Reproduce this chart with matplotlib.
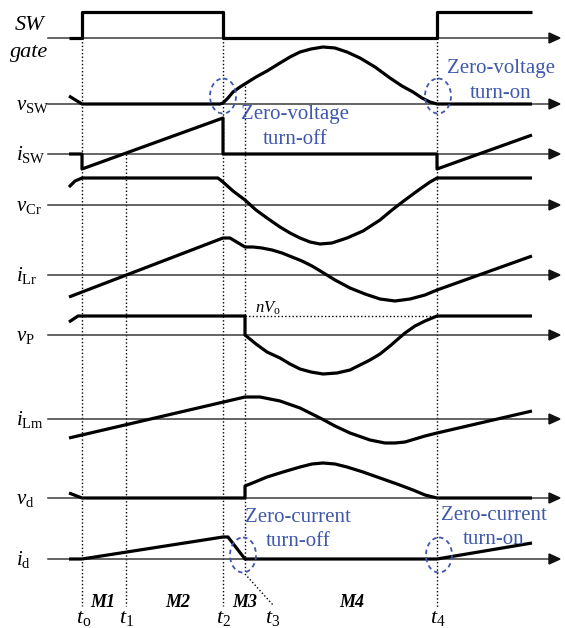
import matplotlib
matplotlib.use("Agg")
import matplotlib.pyplot as plt
from matplotlib.patches import Ellipse, Polygon

plt.rcParams['mathtext.fontset'] = 'custom'
plt.rcParams['mathtext.rm'] = 'Liberation Serif'
plt.rcParams['mathtext.it'] = 'Liberation Serif:italic'
plt.rcParams['mathtext.bf'] = 'Liberation Serif:bold'

SERIF = 'Liberation Serif'
BLUE = '#3f58ad'

# switching instants t0..t4 on the time axis
t_marks = [82, 126, 223, 245, 437]
t_names = [r'$t_{\mathrm{o}}$', r'$t_1$', r'$t_2$', r'$t_3$', r'$t_4$']
modes = ['M1', 'M2', 'M3', 'M4']
mode_pos = [103, 178, 245, 352]

# waveforms: time samples and level above each trace's zero line
gate_t = [69, 82, 82, 223, 223, 437, 437, 532]
gate_v = [0, 0, 26, 26, 0, 0, 26, 26]

vsw_t = [69, 82, 220, 223, 228, 233, 240, 248, 256, 267, 280, 290, 300, 311,
         323, 335, 347, 360, 375, 390, 402, 413, 422, 430, 437, 532]
vsw_v = [8, 0, 0, 1, 6, 12, 17, 22, 27, 33, 41, 47, 52, 55,
         57, 56, 52, 46, 37, 26, 18, 12, 6, 2, 0, 0]

isw_t = [69, 82, 82, 223, 223, 437, 437, 532]
isw_v = [0, 0, -15, 36, 0, 0, -15, 19]

vcr_t = [69, 75, 82, 218, 223, 233, 245, 256, 267, 280, 290, 300, 310, 320,
         332, 347, 363, 380, 392, 405, 420, 430, 437, 532]
vcr_v = [18, 24, 27, 27, 23, 14, 5, -5, -13, -22, -28, -33, -37, -39,
         -38, -33, -26, -15, -5, 5, 16, 23, 27, 27]

ilr_t = [69, 223, 230, 245, 253, 262, 272, 282, 292, 302, 312, 322, 335,
         350, 365, 380, 395, 410, 425, 437, 532]
ilr_v = [-22, 37, 37, 28, 28, 27, 25, 22, 18, 14, 9, 3, -5,
         -13, -19, -24, -26, -24, -20, -15, 19]

vp_t = [69, 78, 245, 245, 256, 267, 280, 290, 300, 311, 323, 337, 350, 360,
        370, 380, 390, 398, 405, 415, 425, 437, 532]
vp_v = [13, 19, 19, 0, -9, -17, -23, -29, -34, -37, -39, -38, -35, -30,
        -25, -19, -11, -4, 2, 9, 14, 19, 19]

ilm_t = [69, 245, 260, 280, 300, 322, 335, 350, 370, 385, 395, 405, 415,
         425, 437, 532]
ilm_v = [-19, 22, 22, 18, 11, 0, -7, -14, -21, -24, -24, -23, -20,
         -17, -14, 8]

vd_t = [69, 82, 245, 245, 255, 267, 283, 300, 312, 323, 335, 347, 363, 380,
        397, 413, 425, 437, 532]
vd_v = [5, 0, 0, 12, 16, 21, 26, 31, 34, 35, 34, 31, 26, 20,
        14, 8, 3, 0, 0]

id_t = [69, 82, 223, 228, 245, 437, 532]
id_v = [0, 0, 22, 22, 0, 0, 16]

nvo_level = 19  # vP clamp level, drawn as the dotted nVo guide

traces = [
    (38, gate_t, gate_v),
    (104, vsw_t, vsw_v),
    (154, isw_t, isw_v),
    (205, vcr_t, vcr_v),
    (275, ilr_t, ilr_v),
    (335, vp_t, vp_v),
    (419, ilm_t, ilm_v),
    (498, vd_t, vd_v),
    (559, id_t, id_v),
]
labels = [None, r'$v_{\mathrm{SW}}$', r'$i_{\mathrm{SW}}$', r'$v_{\mathrm{Cr}}$',
          r'$i_{\mathrm{Lr}}$', r'$v_{\mathrm{P}}$', r'$i_{\mathrm{Lm}}$',
          r'$v_{\mathrm{d}}$', r'$i_{\mathrm{d}}$']

fig = plt.figure(figsize=(5.65, 6.28), dpi=100)
ax = fig.add_axes([0, 0, 1, 1])
ax.set_xlim(0, 565)
ax.set_ylim(628, 0)
ax.axis('off')

# time axes with arrow heads
for (base, ts, vs), lab in zip(traces, labels):
    ax.plot([48, 550], [base, base], color='#3a3a3a', lw=1.1, zorder=2)
    ax.add_patch(Polygon([[549, base - 5], [560, base], [549, base + 5]],
                         closed=True, color='#111111', zorder=2))
    ax.plot(ts, [base - v for v in vs], color='black', lw=2.3,
            solid_joinstyle='round', solid_capstyle='butt', zorder=4)
    if lab:
        ax.text(16, base + 6, lab, fontsize=15, va='baseline', ha='left')

ax.text(15, 30, 'SW', fontsize=16, family=SERIF, style='italic', va='baseline')
ax.text(10, 57, 'gate', fontsize=16, family=SERIF, style='italic', va='baseline')

# dotted instant markers
dot = dict(color='black', lw=1.0, linestyle=(0, (1, 1.6)), zorder=1)
ax.plot([t_marks[0], t_marks[0]], [38, 606], **dot)
ax.plot([t_marks[1], t_marks[1]], [154, 606], **dot)
ax.plot([t_marks[2], t_marks[2]], [38, 606], **dot)
ax.plot([t_marks[3], t_marks[3]], [86, 574], **dot)
ax.plot([t_marks[3], 273], [574, 605], **dot)
ax.plot([t_marks[4], t_marks[4]], [38, 607], **dot)
ax.plot([t_marks[3], t_marks[4]], [335 - nvo_level] * 2, **dot)
ax.text(255, 313, r'$nV_{\mathrm{o}}$', fontsize=12, va='baseline')

t_label_x = [84, 127, 224, 273, 438]
for x, name in zip(t_label_x, t_names):
    ax.text(x, 623, name, fontsize=16, ha='center', va='baseline')
for x, m in zip(mode_pos, modes):
    ax.text(x, 607, m, fontsize=13, family=SERIF, style='italic',
            weight='bold', ha='center', va='baseline')

# soft-switching callouts
for cx, cy in [(223, 96), (438, 96), (243, 555), (439, 555)]:
    ax.add_patch(Ellipse((cx, cy), 26, 35, fill=False, edgecolor=BLUE,
                         lw=1.3, linestyle=(0, (2.5, 2)), zorder=5))

notes = [(295, 115, 'Zero-voltage', 'turn-off'),
         (501, 69, 'Zero-voltage', 'turn-on'),
         (298, 517, 'Zero-current', 'turn-off'),
         (494, 515, 'Zero-current', 'turn-on')]
for x, y, l1, l2 in notes:
    ax.text(x, y, l1, fontsize=15, family=SERIF, color=BLUE,
            ha='center', va='center', zorder=6)
    ax.text(x, y + 24, l2, fontsize=15, family=SERIF, color=BLUE,
            ha='center', va='center', zorder=6)

fig.savefig('out.png', dpi=100)
